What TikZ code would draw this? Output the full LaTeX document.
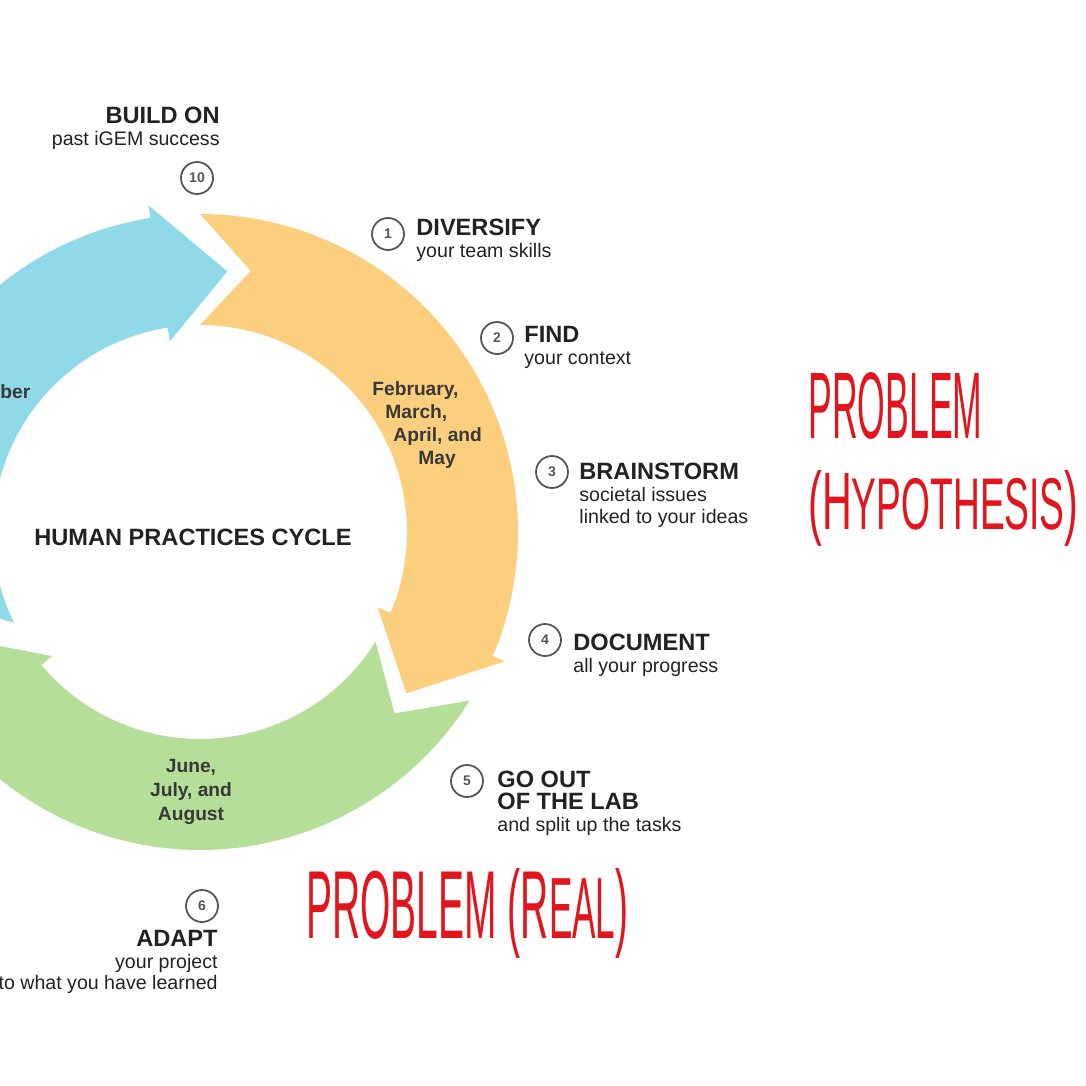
\documentclass[tikz,border=0pt]{standalone}
\usepackage{fontspec}
\setmainfont{Liberation Sans}
\usepackage{graphicx}
\definecolor{hpcyan}{HTML}{90D9E9}
\definecolor{hporange}{HTML}{FBCF7E}
\definecolor{hpgreen}{HTML}{B5DF98}
\definecolor{hpink}{HTML}{222222}
\definecolor{hpmonth}{HTML}{383838}
\definecolor{hpgray}{HTML}{555555}
\definecolor{hpred}{HTML}{E2141C}
\newcommand{\stephead}[1]{{\fontsize{11.8}{10.8}\selectfont\bfseries #1}\\}
\newcommand{\lowcap}[1]{{\fontsize{18}{20}\selectfont #1}}
% arc arrow: colour, tail, notch, head base, tip (angles clockwise from east)
\newcommand{\cyclearrow}[5]{%
  \fill[#1] (#2:318) -- (#3:266) -- (#2:207)
    -- plot[domain=#2:#4,samples=60] (\x:207)
    -- (#4:193) -- (#5:262) -- (#4:331)
    -- plot[domain=#4:#2,samples=60] (\x:318) -- cycle;}

\begin{document}
\begin{tikzpicture}[x=0.5pt,y=-0.5pt,
  stepno/.style={circle,draw=hpgray,line width=0.9pt,minimum size=16pt,inner sep=0pt,text=hpgray,font=\fontsize{7}{7}\selectfont\bfseries},
  stepnote/.style={align=left,anchor=north west,inner sep=0pt,text=hpink,font=\fontsize{9.8}{10.8}\selectfont},
  monthtext/.style={inner sep=0pt,text=hpmonth,font=\fontsize{9.6}{11.6}\selectfont\bfseries},
  scribble/.style={inner sep=0pt,anchor=north west,text=hpred,font=\fontsize{20}{24}\selectfont}]
\clip (0,0) rectangle (1086,1086);
\begin{scope}[shift={(200,532)}]
\cyclearrow{hpcyan}{154}{165}{261}{276}
\cyclearrow{hporange}{-90}{-79}{23}{38}
\cyclearrow{hpgreen}{32}{43}{140}{156}
\end{scope}
\node[inner sep=0pt,text=hpink,font=\fontsize{11.8}{14}\selectfont\bfseries] (title) at (193,537) {HUMAN PRACTICES CYCLE};
\node[monthtext,anchor=west] (winter) at (0,392) {ber};
\node[monthtext,anchor=north west,align=left] (spring) at (372,381) {February,\\\hspace*{6.5pt}March,\\\hspace*{10.5pt}April, and\\\hspace*{23pt}May};
\node[monthtext,align=center,font=\fontsize{9.6}{12}\selectfont\bfseries] (summer) at (191,792) {June,\\July, and\\August};

\node[stepno] (n10) at (197,178) {10};
\node[stepnote,anchor=north east,align=right] (s10) at (220,107) {\stephead{BUILD ON}past iGEM success};
\node[stepno] (n1) at (388,234) {1};
\node[stepnote] (s1) at (416,219) {\stephead{DIVERSIFY}your team skills};
\node[stepno] (n2) at (497,338) {2};
\node[stepnote] (s2) at (524,326) {\stephead{FIND}your context};
\node[stepno] (n3) at (552,472) {3};
\node[stepnote] (s3) at (579,463) {\stephead{BRAINSTORM}societal issues\\linked to your ideas};
\node[stepno] (n4) at (545,640) {4};
\node[stepnote] (s4) at (573,634) {\stephead{DOCUMENT}all your progress};
\node[stepno] (n5) at (467,781) {5};
\node[stepnote] (s5) at (497,771) {\stephead{GO OUT}\stephead{OF THE LAB}and split up the tasks};
\node[stepno] (n6) at (202,906) {6};
\node[stepnote,anchor=north east,align=right] (s6) at (218,930) {\stephead{ADAPT}your project\\to what you have learned};

\node[scribble] (hypo) at (808,372) {\resizebox{87pt}{33pt}{PROBLEM}};
\node[scribble] (hypobr) at (808,470) {\resizebox{135pt}{29.5pt}{(H\lowcap{YPOTHESIS})}};
\node[scribble] (real) at (306,868) {\resizebox{161pt}{35pt}{PROBLEM (R\lowcap{EAL})}};
\end{tikzpicture}
\end{document}
